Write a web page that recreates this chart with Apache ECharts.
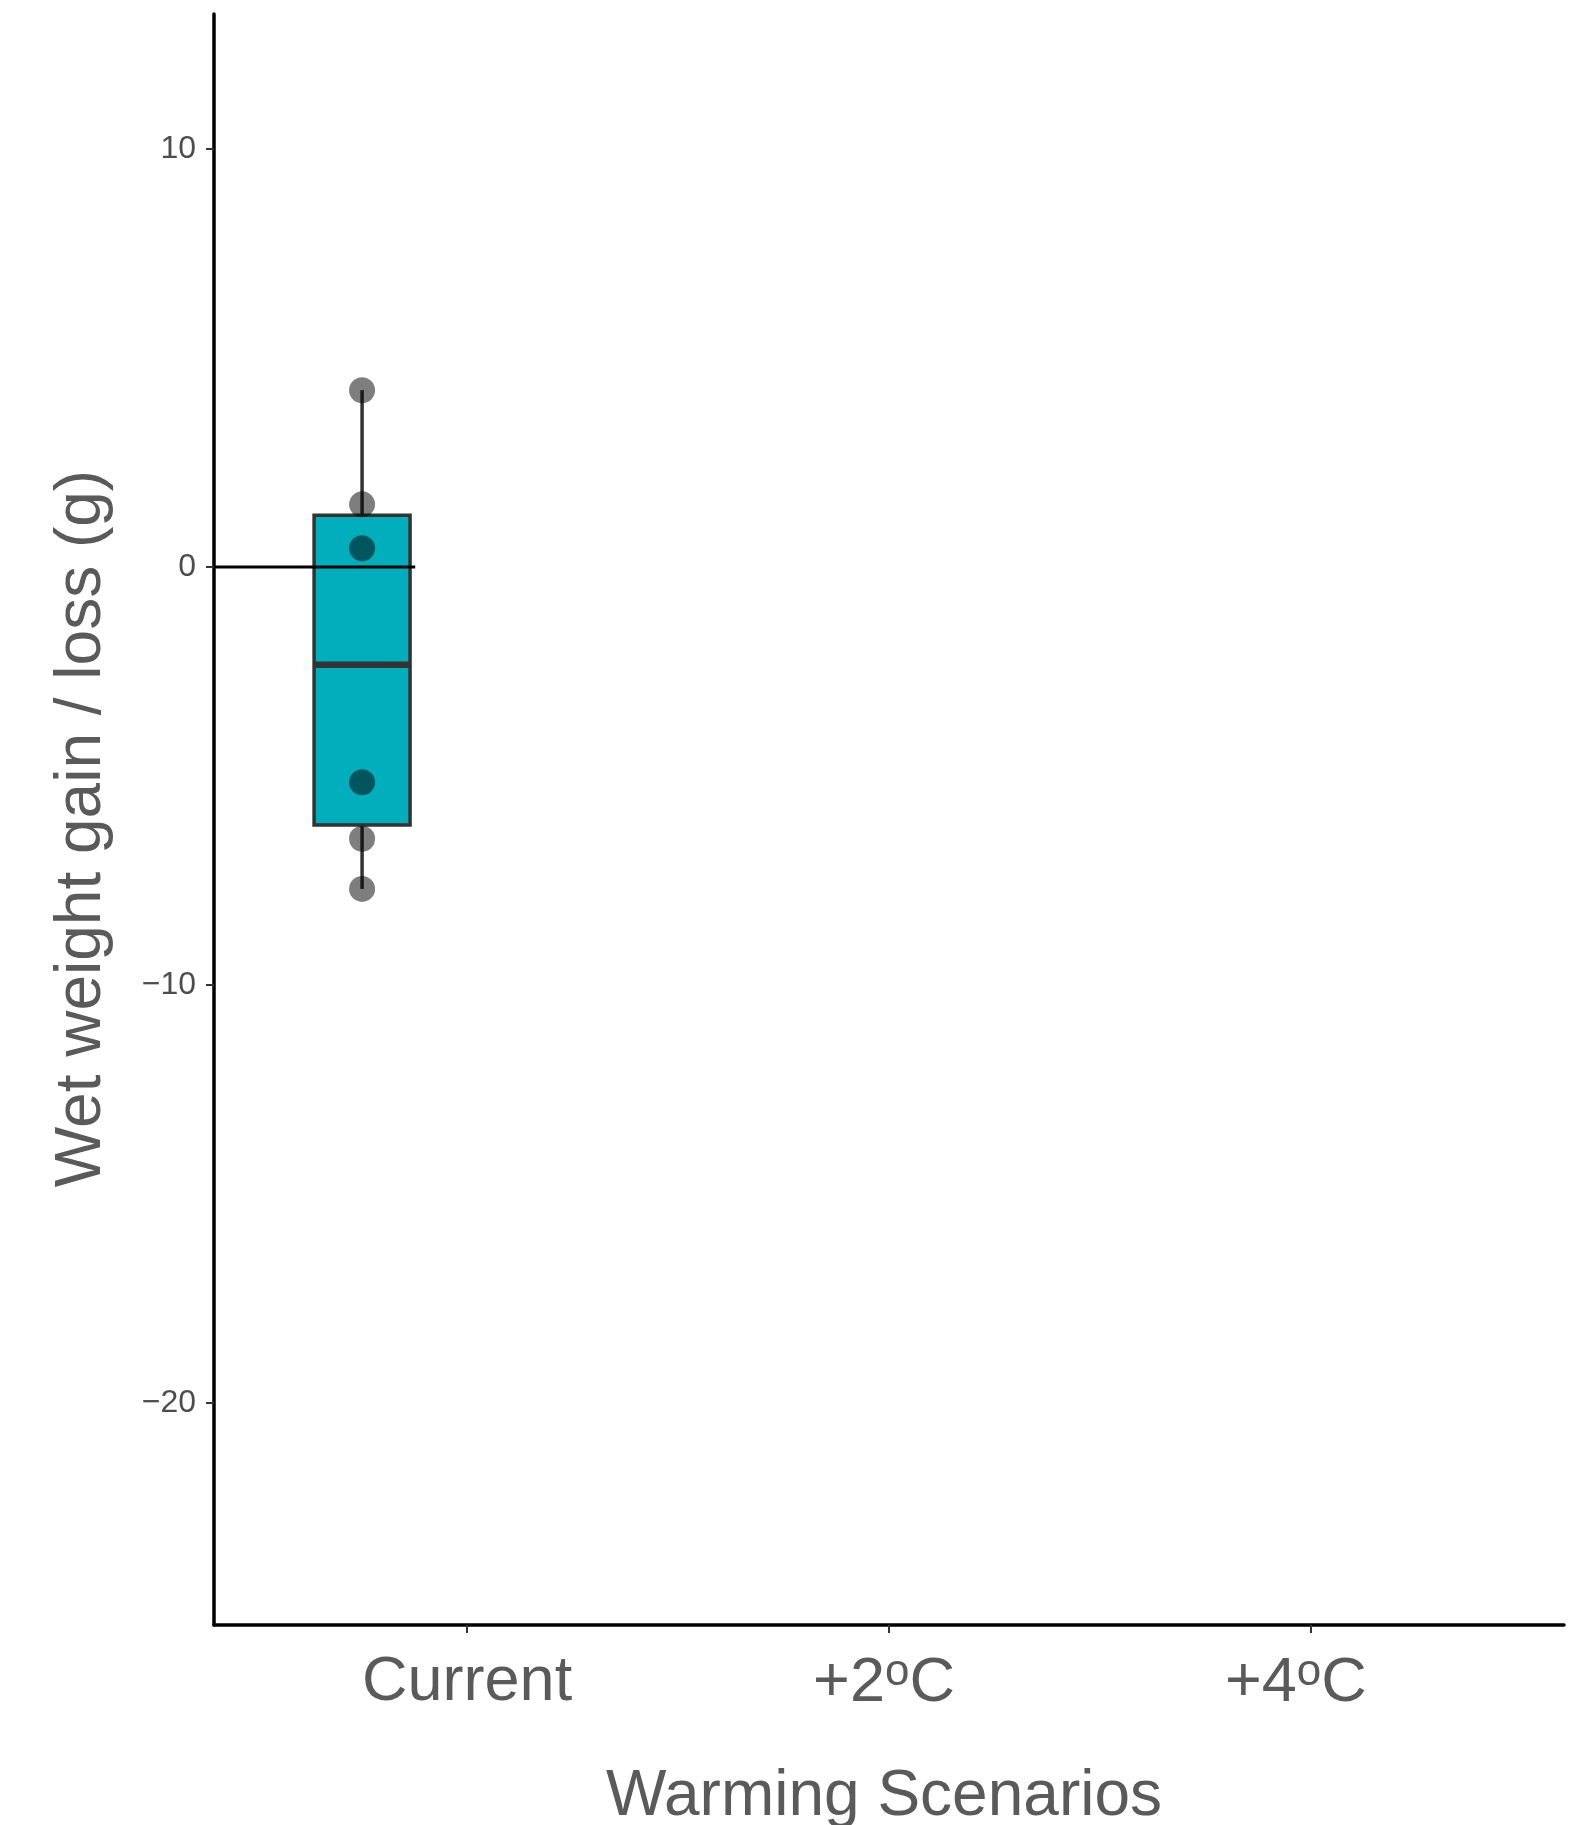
<!DOCTYPE html>
<html>
<head>
<meta charset="utf-8">
<script src="https://cdn.jsdelivr.net/npm/echarts@6/dist/echarts.min.js"></script>
<style>
html,body{margin:0;padding:0;background:#fff;}
#chart{width:1573px;height:1825px;}
</style>
</head>
<body>
<div id="chart"></div>
<script>
// ---- data ----
const categories = ['Current', '+2ºC', '+4ºC'];
const categoryPositions = [1, 2, 3];
const yTicks = [-20, -10, 0, 10];
// box statistics for "Current" (dodged position): [min, Q1, median, Q3, max]
const boxX = 0.751;
const boxStats = [-7.70, -6.17, -2.34, 1.24, 4.23];
const pointValues = [4.23, 1.50, 0.45, -5.15, -6.50, -7.70];
const zeroLine = [[0.4, 0], [0.877, 0]];

const chart = echarts.init(document.getElementById('chart'), null, {renderer: 'canvas'});
const FONT = '"Liberation Sans", Arial, Helvetica, sans-serif';
const labelShift = [0, 10, 30];

function catLabel(v) {
  const i = categoryPositions.indexOf(v);
  if (i < 0) return '';
  const s = categories[i];
  let out = s;
  if (s.indexOf('º') >= 0) {
    const parts = s.split('º');
    out = parts[0] + '{sup|o}' + parts[1];
  }
  if (labelShift[i] > 0) out += '{sp' + i + '|}';
  return out;
}

const option = {
  backgroundColor: '#ffffff',
  animation: false,
  grid: {left: 214, right: 9, top: 14, bottom: 200, containLabel: false, outerBoundsMode: 'none'},
  xAxis: {
    type: 'value',
    min: 0.4, max: 3.6,
    splitLine: {show: false},
    axisLine: {show: true, onZero: false, lineStyle: {color: '#000', width: 3.5}},
    axisTick: {show: true, customValues: categoryPositions, length: 8, lineStyle: {color: '#333', width: 2}},
    axisLabel: {
      show: true, customValues: categoryPositions, margin: 26,
      formatter: catLabel,
      color: '#5a5a5a', fontSize: 63, fontFamily: FONT,
      rich: {
        sup: {fontSize: 44, color: '#5a5a5a', fontFamily: FONT, verticalAlign: 'top', padding: [0, 0, 22, 0]},
        sp1: {width: 10},
        sp2: {width: 30}
      }
    },
    name: 'Warming Scenarios',
    nameLocation: 'middle',
    nameGap: 140,
    nameTextStyle: {color: '#5a5a5a', fontSize: 64, fontFamily: FONT, padding: [0, 10, 0, 0]}
  },
  yAxis: {
    type: 'value',
    min: -25.31, max: 13.23,
    splitLine: {show: false},
    axisLine: {show: true, onZero: false, lineStyle: {color: '#000', width: 3.5}},
    axisTick: {show: true, customValues: yTicks, length: 8, lineStyle: {color: '#333', width: 2}},
    axisLabel: {
      show: true, customValues: yTicks, margin: 18,
      formatter: v => String(v).replace('-', '\u2212'),
      color: '#4d4d4d', fontSize: 32, fontFamily: FONT
    },
    name: 'Wet weight gain / loss (g)',
    nameLocation: 'middle',
    nameGap: 100,
    nameTextStyle: {color: '#5a5a5a', fontSize: 64, fontFamily: FONT, padding: [0, 18, 0, 0]}
  },
  series: [
    {
      type: 'custom',
      z: 2,
      data: [[boxX].concat(boxStats)],
      encode: {x: 0, y: [1, 2, 3, 4, 5]},
      renderItem: function (params, api) {
        const x = api.value(0);
        const lo = api.coord([x, api.value(1)]);
        const q1 = api.coord([x, api.value(2)]);
        const md = api.coord([x, api.value(3)]);
        const q3 = api.coord([x, api.value(4)]);
        const hi = api.coord([x, api.value(5)]);
        const halfW = api.size([0.2275, 0])[0] / 2;
        const cx = q1[0];
        return {
          type: 'group',
          children: [
            {type: 'line', shape: {x1: cx, y1: hi[1], x2: cx, y2: q3[1]}, style: {stroke: '#333', lineWidth: 3.5}},
            {type: 'line', shape: {x1: cx, y1: q1[1], x2: cx, y2: lo[1]}, style: {stroke: '#333', lineWidth: 3.5}},
            {type: 'rect', shape: {x: cx - halfW, y: q3[1], width: halfW * 2, height: q1[1] - q3[1]},
             style: {fill: '#00AFBB', stroke: '#333', lineWidth: 3.5}},
            {type: 'line', shape: {x1: cx - halfW, y1: md[1], x2: cx + halfW, y2: md[1]}, style: {stroke: '#333', lineWidth: 6.5}}
          ]
        };
      }
    },
    {
      type: 'scatter',
      z: 3,
      symbol: 'circle',
      symbolSize: 26,
      itemStyle: {color: 'rgba(0,0,0,0.63)'},
      data: pointValues.map(v => [boxX, v])
    },
    {
      type: 'line',
      z: 4,
      symbol: 'none',
      lineStyle: {color: '#000', width: 3},
      data: zeroLine
    }
  ]
};
chart.setOption(option);
</script>
</body>
</html>
